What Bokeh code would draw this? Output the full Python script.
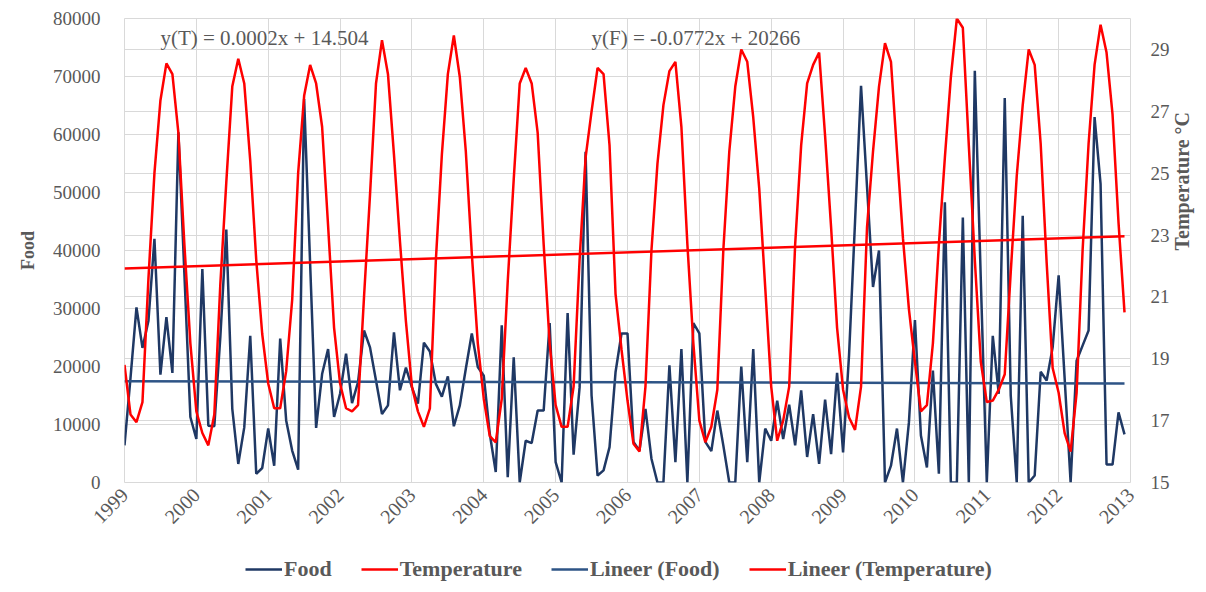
import numpy as np
import pandas as pd
from bokeh.plotting import figure
from bokeh.layouts import column
from bokeh.models import (Range1d, LinearAxis, FixedTicker, Grid, Legend, LegendItem, Label,
                          ColumnDataSource)
from bokeh.embed import file_html
from bokeh.resources import INLINE

# ---------------- data ----------------
start_year = 1999
year_ticks = list(range(1999, 2014))
food_ticks = list(range(0, 80001, 10000))
temp_ticks = [15, 17, 19, 21, 23, 25, 27, 29]

food = [
    6400, 18000, 30200, 23200, 27900, 42000, 18600, 28500, 18900, 60400, 36000, 11300,   # 1999
    7500, 36800, 9800, 9700, 25000, 43600, 12700, 3200, 9500, 25300, 1500, 2500,          # 2000
    9300, 2900, 24800, 10700, 5500, 2200, 66100, 37700, 9400, 18700, 23000, 11300,        # 2001
    15300, 22200, 13700, 17300, 26200, 23300, 17600, 11800, 13300, 25900, 15900, 19800,   # 2002
    16400, 13600, 24100, 22600, 17000, 14800, 18300, 9700, 13300, 19600, 25700, 19900,    # 2003
    18400, 8400, 1800, 27100, 900, 21600, 0, 7200, 6800, 12400, 12400, 27500,             # 2004
    3500, 0, 29200, 4800, 16400, 57000, 15000, 1200, 2100, 6100, 19000, 25700,            # 2005
    25700, 7000, 5500, 12700, 4100, 0, 0, 20200, 3500, 23000, 0, 27500,                   # 2006
    25700, 7000, 5400, 12400, 6400, 0, 0, 20000, 3500, 23000, 0, 9300,                    # 2007
    7200, 14100, 7500, 13400, 6400, 15900, 4400, 11800, 3200, 14300, 4900, 18900,         # 2008
    5200, 22000, 45000, 68400, 51000, 33700, 40000, 0, 2900, 9300, 0, 10400,              # 2009
    28000, 8100, 2600, 19300, 1500, 48300, 0, 0, 45700, 0, 71000, 35000,                  # 2010
    0, 25300, 15300, 66300, 15000, 0, 46000, 0, 1200, 19100, 17600, 23300,                # 2011
    35700, 18000, 0, 21000, 23600, 26200, 63000, 51500, 3100, 3100, 12100, 8300,          # 2012
]

temperature = [
    18.8, 17.2, 16.95, 17.6, 21.6, 25.0, 27.35, 28.55, 28.2, 26.3, 22.7, 19.5,   # 1999
    17.3, 16.6, 16.2, 17.2, 21.4, 24.7, 27.8, 28.7, 27.9, 25.4, 22.2, 19.8,      # 2000
    18.2, 17.4, 17.4, 18.6, 20.9, 25.0, 27.5, 28.5, 27.9, 26.5, 23.3, 20.0,      # 2001
    18.2, 17.4, 17.3, 17.5, 21.0, 24.3, 27.9, 29.3, 28.2, 25.6, 22.8, 20.2,      # 2002
    18.1, 17.3, 16.8, 17.4, 22.2, 25.6, 28.2, 29.45, 28.1, 25.7, 22.4, 19.5,     # 2003
    17.7, 16.5, 16.3, 17.7, 21.5, 24.8, 27.9, 28.4, 27.9, 26.3, 22.7, 19.5,      # 2004
    17.5, 16.8, 16.8, 18.1, 22.2, 25.5, 27.0, 28.4, 28.2, 25.9, 21.1, 19.3,      # 2005
    17.65, 16.25, 16.0, 18.1, 22.5, 25.3, 27.2, 28.3, 28.6, 26.5, 22.7, 19.5,    # 2006
    17.0, 16.3, 16.8, 18.0, 22.5, 25.7, 27.8, 29.0, 28.6, 26.8, 24.5, 21.3,      # 2007
    18.1, 16.35, 17.0, 18.1, 22.7, 25.9, 27.9, 28.5, 28.9, 26.2, 23.25, 20.0,    # 2008
    18.0, 17.1, 16.7, 18.1, 23.25, 25.7, 27.8, 29.2, 28.6, 25.7, 22.9, 20.6,     # 2009
    18.9, 17.3, 17.5, 19.5, 22.7, 25.5, 28.1, 30.0, 29.7, 25.9, 22.2, 18.9,      # 2010
    17.6, 17.65, 18.0, 18.5, 21.8, 24.9, 27.2, 29.0, 28.5, 25.95, 22.1, 18.7,    # 2011
    17.9, 16.6, 16.0, 17.9, 22.5, 25.95, 28.5, 29.8, 28.9, 26.9, 23.4, 20.5,     # 2012
]

# linear trend coefficients (Excel date serial as x), as printed on the chart
temp_trend_slope, temp_trend_intercept = 0.000205, 14.504
food_trend_slope, food_trend_intercept = -0.0772, 20266

eq_temperature = "y(T) = 0.0002x + 14.504"
eq_food = "y(F) = -0.0772x + 20266"
series_names = ["Food", "Temperature", "Lineer (Food)", "Lineer (Temperature)"]
left_title = "Food"
right_title = "Temperature °C"

# ---------------- derived ----------------
n = len(food)
x = start_year + np.arange(n) / 12.0
dates = pd.date_range(f"{start_year}-01-01", periods=n, freq="MS")
serial = (dates - pd.Timestamp("1899-12-30")).days.values.astype(float)
food_arr = np.array(food, dtype=float)
temp_arr = np.array(temperature, dtype=float)
trend_x = np.array([x[0], x[-1]])
trend_serial = np.array([serial[0], serial[-1]])
food_trend = food_trend_slope * trend_serial + food_trend_intercept
temp_trend = temp_trend_slope * trend_serial + temp_trend_intercept

FONT = "Liberation Serif"
GREY = "#595959"
GRID = "#d9d9d9"
NAVY = "#1f3864"
TREND_BLUE = "#2e5486"
RED = "#ff0000"

styles = {
    "Food": dict(line_color=NAVY, line_width=2.5),
    "Temperature": dict(line_color=RED, line_width=2.5),
    "Lineer (Food)": dict(line_color=TREND_BLUE, line_width=2.5),
    "Lineer (Temperature)": dict(line_color=RED, line_width=2.5),
}

p = figure(width=1206, height=545, output_backend="svg", toolbar_location=None,
           x_range=Range1d(1999, 2013), y_range=Range1d(0, 80000),
           min_border_left=124, min_border_right=72, min_border_top=18,
           min_border_bottom=63, background_fill_color="white",
           border_fill_color="white", outline_line_color=GRID)
p.extra_y_ranges = {"temp": Range1d(15, 30)}


def style_axis(ax, size="19px"):
    ax.major_label_text_font = FONT
    ax.major_label_text_font_size = size
    ax.major_label_text_color = GREY
    ax.axis_line_color = None
    ax.major_tick_line_color = None
    ax.minor_tick_line_color = None
    ax.major_tick_out = 0
    ax.major_tick_in = 0
    ax.minor_tick_out = 0
    ax.minor_tick_in = 0


xa = p.xaxis[0]
xa.ticker = FixedTicker(ticks=year_ticks)
xa.major_label_orientation = np.pi / 4
xa.major_label_standoff = 9
style_axis(xa, "20px")

ya = p.yaxis[0]
ya.ticker = FixedTicker(ticks=food_ticks)
ya.major_label_standoff = 24
ya.axis_label = left_title
ya.axis_label_text_font = FONT
ya.axis_label_text_font_style = "bold"
ya.axis_label_text_font_size = "18px"
ya.axis_label_text_color = GREY
ya.axis_label_standoff = 12
style_axis(ya)

raxis = LinearAxis(y_range_name="temp", ticker=FixedTicker(ticks=temp_ticks))
raxis.major_label_standoff = 20
style_axis(raxis)
raxis.axis_label = right_title
raxis.axis_label_text_font = FONT
raxis.axis_label_text_font_style = "bold"
raxis.axis_label_text_font_size = "20px"
raxis.axis_label_text_color = GREY
raxis.axis_label_standoff = 9
if "axis_label_orientation" in raxis.properties():
    raxis.axis_label_orientation = np.pi / 2
p.add_layout(raxis, "right")

p.xgrid.ticker = FixedTicker(ticks=year_ticks)
p.xgrid.grid_line_color = GRID
p.ygrid.grid_line_color = GRID
rgrid = Grid(dimension=1, axis=raxis, ticker=FixedTicker(ticks=temp_ticks),
             y_range_name="temp", grid_line_color=GRID)
p.add_layout(rgrid)

# series
p.line(x, food_arr, **styles["Food"])
p.line(trend_x, food_trend, **styles["Lineer (Food)"])
p.line(x, temp_arr, y_range_name="temp", **styles["Temperature"])
p.line(trend_x, temp_trend, y_range_name="temp", **styles["Lineer (Temperature)"])

# equations
p.add_layout(Label(x=1999.5, y=76700, text=eq_temperature, text_font=FONT,
                   text_font_size="21px", text_color=GREY, text_baseline="middle"))
p.add_layout(Label(x=2005.5, y=76600, text=eq_food, text_font=FONT,
                   text_font_size="21px", text_color=GREY, text_baseline="middle"))

# ---------------- legend strip ----------------
lg = figure(width=1206, height=47, output_backend="svg", toolbar_location=None,
            x_range=Range1d(0, 1), y_range=Range1d(0, 1),
            x_axis_type=None, y_axis_type=None,
            min_border_left=0, min_border_right=0, min_border_top=0, min_border_bottom=0,
            outline_line_color=None, background_fill_color="white",
            border_fill_color="white")
lg.grid.visible = False
items = []
for name in series_names:
    src = ColumnDataSource(dict(x=[np.nan], y=[np.nan]))
    r = lg.line("x", "y", source=src, **styles[name])
    items.append(LegendItem(label=name, renderers=[r]))
legend = Legend(items=items, orientation="horizontal", location=(121, 10),
                glyph_width=37, glyph_height=20, label_standoff=2, spacing=29,
                padding=0, margin=0, border_line_color=None, background_fill_alpha=0,
                label_text_font=FONT, label_text_font_style="bold",
                label_text_font_size="22px", label_text_color=GREY)
lg.add_layout(legend)

layout = column(p, lg, spacing=0)
open("out.html", "w").write(file_html(layout, INLINE))
